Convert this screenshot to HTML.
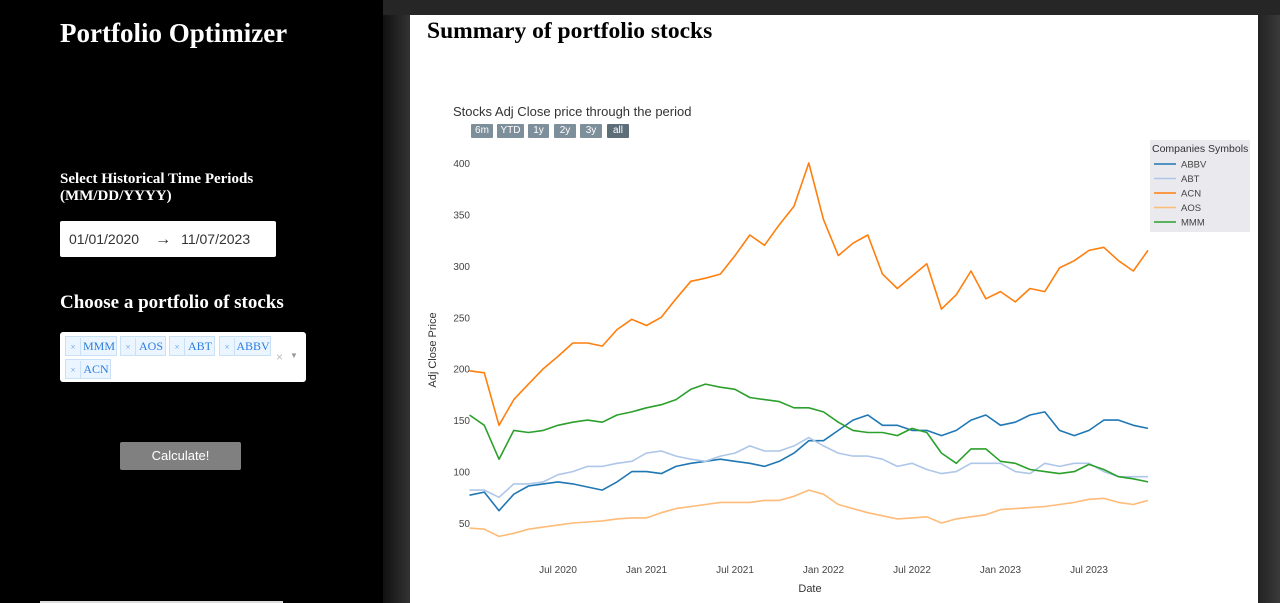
<!DOCTYPE html>
<html><head><meta charset="utf-8">
<style>
body{margin:0;width:1280px;height:603px;overflow:hidden;background:#2a2a2a;font-family:"Liberation Sans",sans-serif;position:relative}
.left{position:absolute;left:0;top:0;width:383px;height:603px;background:#000}
.gap{position:absolute;left:383px;top:0;width:27px;height:603px;background:linear-gradient(90deg,#111,#333)}
.topstrip{position:absolute;left:383px;top:0;width:897px;height:15px;background:#262626}
.card{position:absolute;left:410px;top:15px;width:848px;height:588px;background:#fff}
.rbar{position:absolute;left:1258px;top:15px;width:22px;height:588px;background:linear-gradient(90deg,#222,#3a3a3a)}
.serif{font-family:"Liberation Serif",serif;font-weight:bold;color:#fff;position:absolute;white-space:nowrap}
.tag{position:absolute;border:1px solid #c9e0f5;background:#ebf5ff;color:#2b7de0;font-family:"Liberation Serif",serif;font-size:12px;height:18px;line-height:18px;box-sizing:border-box;height:20px;white-space:nowrap}
.tag span{display:inline-block;text-align:center}
.tag .x{width:14px;border-right:1px solid #c9e0f5;font-size:9px;color:#5a9be6}
.btn{position:absolute;top:124px;height:14px;line-height:14px;font-size:10px;color:#fff;background:#7d8f9a;text-align:center;border-radius:1px}
</style></head><body>
<div class="left">
 <div class="serif" style="left:60px;top:18px;font-size:27px">Portfolio Optimizer</div>
 <div class="serif" style="left:60px;top:171px;font-size:15px;line-height:17px">Select Historical Time Periods<br>(MM/DD/YYYY)</div>
 <div style="position:absolute;left:60px;top:221px;width:216px;height:36px;background:#fff;border-radius:2px;font-size:14px;color:#333;line-height:36px;white-space:nowrap"><span style="margin-left:9px">01/01/2020</span><span style="margin-left:16px;font-size:16px">→</span><span style="margin-left:10px">11/07/2023</span></div>
 <div class="serif" style="left:60px;top:292px;font-size:19px">Choose a portfolio of stocks</div>
 <div style="position:absolute;left:60px;top:332px;width:246px;height:50px;background:#fff;border-radius:3px">
   <div class="tag" style="left:5px;top:4px;width:52px"><span class="x">×</span><span style="width:36px">MMM</span></div>
   <div class="tag" style="left:60px;top:4px;width:46px"><span class="x">×</span><span style="width:30px">AOS</span></div>
   <div class="tag" style="left:109px;top:4px;width:46px"><span class="x">×</span><span style="width:30px">ABT</span></div>
   <div class="tag" style="left:159px;top:4px;width:52px"><span class="x">×</span><span style="width:36px">ABBV</span></div>
   <div class="tag" style="left:5px;top:27px;width:46px"><span class="x">×</span><span style="width:30px">ACN</span></div>
  <span style="position:absolute;left:216px;top:18px;font-size:12px;color:#bbb">×</span>
  <span style="position:absolute;left:230px;top:19px;font-size:8px;color:#999">▼</span>
 </div>
 <div style="position:absolute;left:120px;top:442px;width:121px;height:28px;background:#808080;border-radius:2px;color:#fff;font-size:13px;line-height:28px;text-align:center">Calculate!</div>
 <div style="position:absolute;left:40px;top:601px;width:243px;height:2px;background:#ddd"></div>
</div>
<div class="gap"></div><div class="topstrip"></div><div class="rbar"></div>
<div class="card">
 <div style="position:absolute;left:17px;top:3px;font-family:'Liberation Serif',serif;font-weight:bold;font-size:23.5px;color:#000;white-space:nowrap">Summary of portfolio stocks</div>
</div>
<div style="position:absolute;left:453px;top:104px;font-size:13px;color:#333;white-space:nowrap">Stocks Adj Close price through the period</div>
<div class="btn" style="left:471px;width:22px">6m</div>
<div class="btn" style="left:497px;width:27px">YTD</div>
<div class="btn" style="left:528px;width:21px">1y</div>
<div class="btn" style="left:554px;width:22px">2y</div>
<div class="btn" style="left:580px;width:22px">3y</div>
<div class="btn" style="left:607px;width:22px;background:#5d6e78">all</div>
<div style="position:absolute;left:1150px;top:140px;width:100px;height:92px;background:#e9e9ee;font-size:10px;color:#444">
 <div style="position:absolute;left:2px;top:3px;font-size:10.5px;color:#333;white-space:nowrap">Companies Symbols</div>
</div>
<svg id="chart" width="1280" height="603" style="position:absolute;left:0;top:0"></svg>
<script>
const months=["2020-01","2020-02","2020-03","2020-04","2020-05","2020-06","2020-07","2020-08","2020-09","2020-10","2020-11","2020-12","2021-01","2021-02","2021-03","2021-04","2021-05","2021-06","2021-07","2021-08","2021-09","2021-10","2021-11","2021-12","2022-01","2022-02","2022-03","2022-04","2022-05","2022-06","2022-07","2022-08","2022-09","2022-10","2022-11","2022-12","2023-01","2023-02","2023-03","2023-04","2023-05","2023-06","2023-07","2023-08","2023-09","2023-10","2023-11"];
const abbv=[77,80,62,78,86,88,90,88,85,82,90,100,100,98,105,108,110,112,110,108,105,110,118,130,130,140,150,155,145,145,140,140,135,140,150,155,145,148,155,158,140,135,140,150,150,145,142];
const abt=[82,82,75,88,88,90,97,100,105,105,108,110,118,120,115,112,110,115,118,125,120,120,125,133,125,118,115,115,112,105,108,102,98,100,108,108,108,100,98,108,105,108,108,100,95,95,95];
const acn=[198,196,145,170,185,200,212,225,225,222,238,248,242,250,268,285,288,292,310,330,320,340,358,400,345,310,322,330,292,278,290,302,258,272,295,268,275,265,278,275,298,305,315,318,305,295,315];
const aos=[45,44,37,40,44,46,48,50,51,52,54,55,55,60,64,66,68,70,70,70,72,72,76,82,78,68,64,60,57,54,55,56,50,54,56,58,63,64,65,66,68,70,73,74,70,68,72];
const mmm=[155,145,112,140,138,140,145,148,150,148,155,158,162,165,170,180,185,182,180,172,170,168,162,162,158,148,140,138,138,135,142,138,118,108,122,122,110,108,102,100,98,100,107,102,95,93,90];
const series=[["ABBV",abbv,"#1f77b4"],["ABT",abt,"#aec7e8"],["ACN",acn,"#ff7f0e"],["AOS",aos,"#ffbb78"],["MMM",mmm,"#2ca02c"]];
const xTicks=["2020-07","2021-01","2021-07","2022-01","2022-07","2023-01","2023-07"];
const xTickLabels=["Jul 2020","Jan 2021","Jul 2021","Jan 2022","Jul 2022","Jan 2023","Jul 2023"];
const yTicks=[50,100,150,200,250,300,350,400];
const NS="http://www.w3.org/2000/svg";
const svg=document.getElementById('chart');
function mIdx(s){const [yy,m]=s.split('-').map(Number);return (yy-2020)*12+(m-1);}
const pxPerMonth=(1089-558)/36;
function x(s){return 558+(mIdx(s)-6)*pxPerMonth;}
function y(v){return 523-(v-50)*360/350;}
function el(t,a){const e=document.createElementNS(NS,t);for(const k in a)e.setAttribute(k,a[k]);svg.appendChild(e);return e;}
yTicks.forEach(v=>{const t=el('text',{x:470,y:y(v)+4,'text-anchor':'end','font-size':10,fill:'#444','font-family':'Liberation Sans, sans-serif'});t.textContent=v;

});
xTicks.forEach((s,i)=>{const t=el('text',{x:x(s),y:573,'text-anchor':'middle','font-size':10,fill:'#444','font-family':'Liberation Sans, sans-serif'});t.textContent=xTickLabels[i];

});
let t=el('text',{x:810,y:592,'text-anchor':'middle','font-size':11,fill:'#333','font-family':'Liberation Sans, sans-serif'});t.textContent='Date';


t=el('text',{x:0,y:0,transform:'translate(436,350) rotate(-90)','text-anchor':'middle','font-size':11,fill:'#333','font-family':'Liberation Sans, sans-serif'});t.textContent='Adj Close Price';


series.forEach(([name,vals,col],k)=>{
 const pts=vals.map((v,i)=>x(months[i]).toFixed(1)+','+y(v).toFixed(1)).join(' ');
 const p=el('polyline',{points:pts,fill:'none',stroke:col,'stroke-width':1.6,'stroke-linejoin':'round'});
 
 
 const ly=164+k*14.5;
 const l=el('line',{x1:1154,x2:1176,y1:ly,y2:ly,stroke:col,'stroke-width':1.6});
 
 
 const lt=el('text',{x:1181,y:ly+3.5,'font-size':9.5,fill:'#444','font-family':'Liberation Sans, sans-serif'});lt.textContent=name;
 
 
});
</script>
</body></html>
